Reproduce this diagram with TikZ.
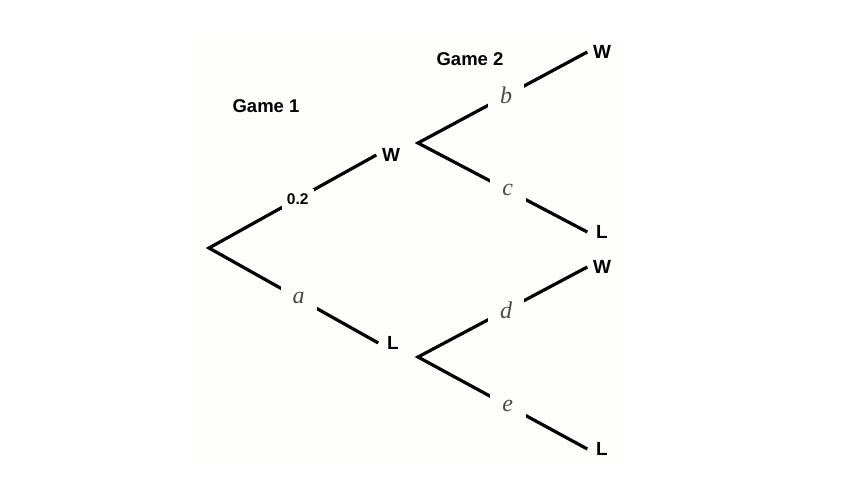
\documentclass[tikz,border=0pt]{standalone}
\usepackage{fontspec}
\setmainfont{Liberation Serif}
\setsansfont{Liberation Sans}
\definecolor{bgc}{HTML}{FEFEFD}
\definecolor{lblgray}{HTML}{4A4A4A}
\tikzset{
  branch/.style={line width=3.2pt, line join=miter, black},
  leaf/.style={font=\sffamily\bfseries\fontsize{19}{19}\selectfont, inner sep=0pt, minimum width=29pt, minimum height=14pt},
  prob/.style={font=\itshape\fontsize{24}{24}\selectfont, text=lblgray, fill=bgc, inner sep=0pt, minimum width=36pt, minimum height=26pt},
  probnum/.style={font=\sffamily\bfseries\fontsize{15.5}{15.5}\selectfont, fill=bgc, inner sep=0pt, minimum width=32pt, minimum height=20pt},
  gamelbl/.style={font=\sffamily\bfseries\fontsize{18.5}{18.5}\selectfont, inner sep=0pt}
}
\begin{document}
\begin{tikzpicture}[x=1pt,y=-1pt]
\useasboundingbox (0,0) rectangle (850,490);
\fill[bgc] (191,37) rectangle (623,463);
% titles
\node[gamelbl] (g1) at (266,106) {Game 1};
\node[gamelbl] (g2) at (470,59) {Game 2};
% branching points
\coordinate (r) at (209,248);
\coordinate (v1) at (418,143);
\coordinate (v2) at (418,357);
% leaves
\node[leaf] (W1) at (391,155) {W};
\node[leaf] (L1) at (393,343) {L};
\node[leaf] (W2) at (602,52) {W};
\node[leaf] (L2) at (602,232) {L};
\node[leaf] (W3) at (602,267) {W};
\node[leaf] (L3) at (602,449) {L};
% branches
\draw[branch] (W1.west) -- node[probnum, pos=0.47] (p1) {0.2} (r) -- node[prob, pos=0.53] (pa) {a} (L1.west);
\draw[branch] (W2.west) -- node[prob, pos=0.48] (pb) {b} (v1) -- node[prob, pos=0.53] (pc) {c} (L2.west);
\draw[branch] (W3.west) -- node[prob, pos=0.48] (pd) {d} (v2) -- node[prob, pos=0.53] (pe) {e} (L3.west);
\end{tikzpicture}
\end{document}
